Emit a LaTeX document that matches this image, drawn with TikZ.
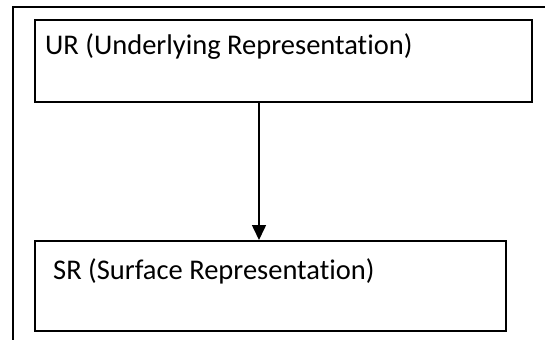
\documentclass[tikz,border=0pt]{standalone}
\usepackage{fontspec}
\setmainfont[RawFeature={-liga}]{Carlito}
\usetikzlibrary{arrows.meta,calc}
\begin{document}
\begin{tikzpicture}[x=1pt,y=-1pt,
  box/.style={draw=black,line width=1.6pt,rectangle,inner sep=0pt,anchor=north west},
  lbl/.style={anchor=base west,inner sep=0pt,font=\fontsize{28.5}{32}\selectfont},
  frame/.style={draw=black,line width=1.8pt},
  conn/.style={draw=black,line width=1.6pt,-{Triangle[length=15pt,width=14pt]}}]
\useasboundingbox (0,0) rectangle (550,340);
\draw[frame] (13,341) -- (13,7) -- (545,7);
\node[box,minimum width=497pt,minimum height=82pt] (ur) at (34,19) {};
\node[lbl] (urt) at (45,54) {UR (Underlying Representation)};
\node[box,minimum width=471pt,minimum height=90pt] (sr) at (34,240) {};
\node[lbl] (srt) at (53,279) {SR (Surface Representation)};
\draw[conn] ($(ur.south west)+(225,0)$) -- ($(sr.north west)+(225,0)$);
\end{tikzpicture}
\end{document}
